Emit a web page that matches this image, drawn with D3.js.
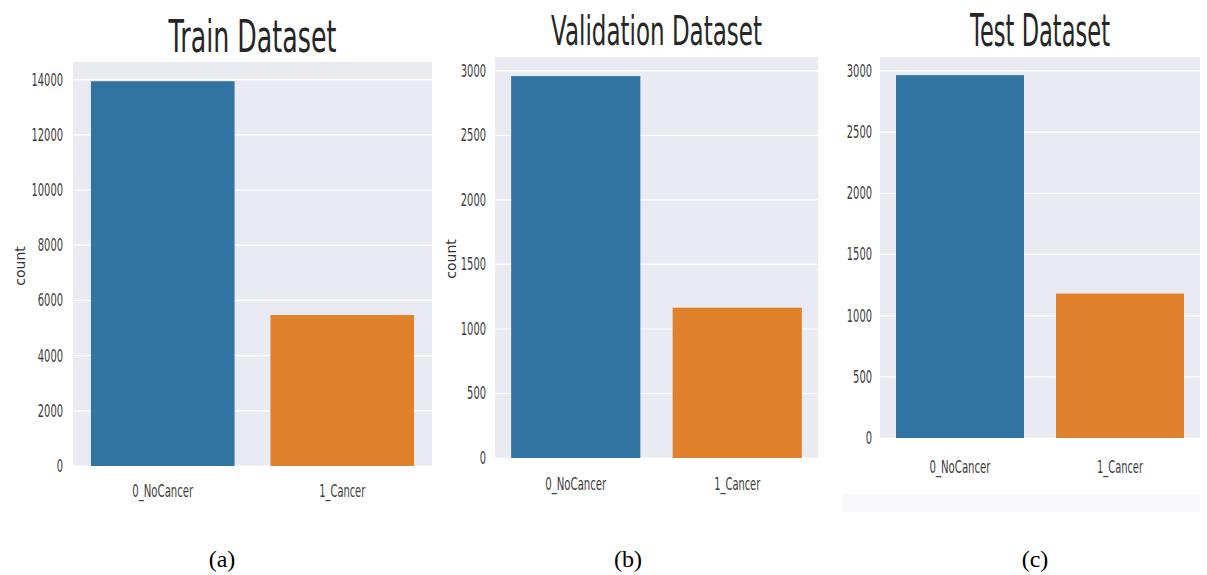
<!DOCTYPE html>
<html lang="en">
<head>
  <meta charset="UTF-8">
  <title>Dataset class counts</title>
  <style>
    body { margin: 0; background: #fff; }
  </style>
</head>
<body>
  <svg id="svg" width="1207" height="575"></svg>

  <script src="https://d3js.org/d3.v7.min.js"></script>
  <script>
    // data
    const categories = ['0_NoCancer', '1_Cancer']
    const trainCounts = [13940, 5470]
    const validationCounts = [2960, 1165]
    const testCounts = [2965, 1180]
    const trainTicks = [0, 2000, 4000, 6000, 8000, 10000, 12000, 14000]
    const smallTicks = [0, 500, 1000, 1500, 2000, 2500, 3000]
    const titles = ['Train Dataset', 'Validation Dataset', 'Test Dataset']
    const captions = ['(a)', '(b)', '(c)']

    const colors = ['#3274a1', '#e1812c']
    const sans = '"DejaVu Sans", sans-serif'
    const svg = d3.select('#svg')

    // squeeze a text horizontally to a given width (the reference is squashed)
    function squeeze(sel, w, cx, cy) {
      sel.each(function () {
        const len = this.getComputedTextLength()
        d3.select(this).attr('transform', `translate(${cx},${cy}) scale(${w / len},1)`)
      })
    }

    const panels = [
      { values: trainCounts, ticks: trainTicks, left: 73, right: 432, top: 62, bottom: 466, tickGap: 10,
        titleY: 52, titleW: 168, titleSize: 44, labelY: 497, ylabel: { x: 25, y: 266 }, capX: 222 },
      { values: validationCounts, ticks: smallTicks, left: 495, right: 818, top: 57, bottom: 458, tickGap: 9,
        titleY: 45, titleW: 211, titleSize: 41, labelY: 490, ylabel: { x: 456, y: 259 }, capX: 628 },
      { values: testCounts, ticks: smallTicks, left: 880, right: 1200, top: 57, bottom: 438, tickGap: 8,
        titleY: 46, titleW: 140, titleSize: 44, labelY: 473, ylabel: null, capX: 1035 }
    ]

    // faint strip under the test panel
    svg.append('rect')
      .attr('x', 843).attr('y', 495).attr('width', 357).attr('height', 17)
      .attr('fill', '#f8f8fa')

    panels.forEach((p, i) => {
      const x = d3.scaleBand()
        .domain(categories)
        .range([p.left, p.right])
        .paddingInner(0.2)
        .paddingOuter(0.1)

      const y = d3.scaleLinear()
        .domain([0, d3.max(p.values) * 1.05])
        .range([p.bottom, p.top])

      const g = svg.append('g')

      // background
      g.append('rect')
        .attr('x', p.left).attr('y', p.top)
        .attr('width', p.right - p.left).attr('height', p.bottom - p.top)
        .attr('fill', '#eaeaf2')

      // white grid
      g.selectAll('line.grid')
        .data(p.ticks)
        .join('line')
        .attr('class', 'grid')
        .attr('x1', p.left).attr('x2', p.right)
        .attr('y1', d => y(d)).attr('y2', d => y(d))
        .attr('stroke', '#fff')
        .attr('stroke-width', 1.2)

      // bars
      g.selectAll('rect.bar')
        .data(p.values)
        .join('rect')
        .attr('class', 'bar')
        .attr('x', (d, j) => x(categories[j]))
        .attr('y', d => y(d))
        .attr('width', x.bandwidth())
        .attr('height', d => y(0) - y(d))
        .attr('fill', (d, j) => colors[j])

      // y axis (no line, no ticks), labels squashed like the reference
      const yAxis = g.append('g')
        .attr('transform', `translate(${p.left},0)`)
        .call(d3.axisLeft(y).tickValues(p.ticks).tickSize(0).tickFormat(d3.format('d')))
      yAxis.select('.domain').remove()
      yAxis.selectAll('text')
        .attr('x', 0)
        .attr('font-family', sans)
        .attr('font-size', 17)
        .attr('fill', '#3c3c3c')
        .each(function (d) {
          squeeze(d3.select(this), String(d).length * 6.3, -p.tickGap, 0)
        })

      // x labels
      g.selectAll('text.xl')
        .data(categories)
        .join('text')
        .attr('class', 'xl')
        .attr('text-anchor', 'middle')
        .attr('font-family', sans)
        .attr('font-size', 18)
        .attr('fill', '#3c3c3c')
        .text(d => d)
        .each(function (d) {
          squeeze(d3.select(this), d === '0_NoCancer' ? 61 : 46, x(d) + x.bandwidth() / 2, p.labelY)
        })

      // title
      g.append('text')
        .attr('text-anchor', 'middle')
        .attr('font-family', sans)
        .attr('font-size', p.titleSize)
        .attr('fill', '#262626')
        .text(titles[i])
        .call(squeeze, p.titleW, (p.left + p.right) / 2, p.titleY)

      // y label
      if (p.ylabel) {
        g.append('text')
          .attr('text-anchor', 'middle')
          .attr('font-family', sans)
          .attr('font-size', 14)
          .attr('fill', '#333')
          .text('count')
          .attr('transform', `translate(${p.ylabel.x},${p.ylabel.y}) rotate(-90)`)
      }

      // caption under each panel
      svg.append('text')
        .attr('x', p.capX)
        .attr('y', 567)
        .attr('text-anchor', 'middle')
        .attr('font-family', '"Liberation Serif", "Times New Roman", serif')
        .attr('font-size', 24)
        .attr('fill', '#000')
        .text(captions[i])
    })
  </script>
</body>
</html>
